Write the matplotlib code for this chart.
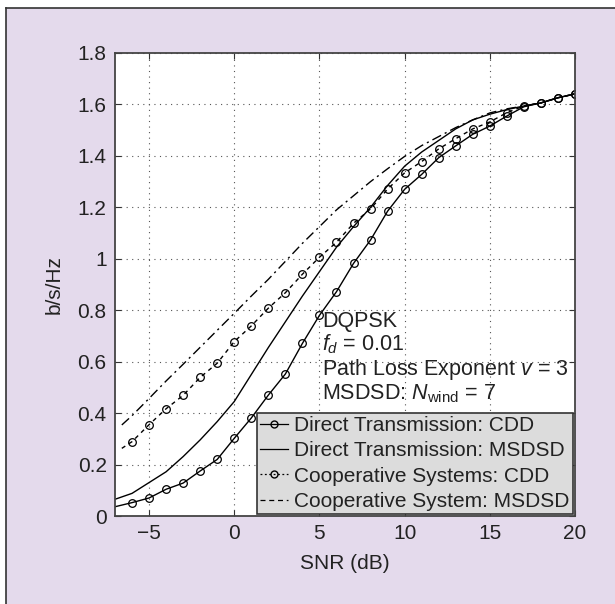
import matplotlib
matplotlib.use("Agg")
import matplotlib.pyplot as plt
from matplotlib.lines import Line2D

plt.rcParams['font.family'] = ['Liberation Sans', 'DejaVu Sans']
plt.rcParams['mathtext.fontset'] = 'custom'
plt.rcParams['mathtext.rm'] = 'Liberation Sans'
plt.rcParams['mathtext.it'] = 'Liberation Sans:italic'

# data
snr = [-7, -6, -5, -4, -3, -2, -1, 0, 1, 2, 3, 4, 5, 6, 7,
       8, 9, 10, 11, 12, 13, 14, 15, 16, 17, 18, 19, 20]
direct_cdd = [0.036, 0.052, 0.070, 0.104, 0.128, 0.175, 0.220, 0.302, 0.381, 0.470,
              0.552, 0.671, 0.780, 0.872, 0.982, 1.073, 1.185, 1.270, 1.328, 1.393,
              1.439, 1.484, 1.516, 1.555, 1.591, 1.606, 1.626, 1.641]
direct_msdsd = [0.065, 0.088, 0.130, 0.172, 0.231, 0.296, 0.367, 0.445, 0.550, 0.655,
                0.755, 0.855, 0.950, 1.045, 1.125, 1.200, 1.285, 1.360, 1.415, 1.460,
                1.505, 1.540, 1.562, 1.580, 1.594, 1.606, 1.626, 1.641]

snr_coop = [-6.6, -6, -5, -4, -3, -2, -1, 0, 1, 2, 3, 4, 5, 6, 7,
            8, 9, 10, 11, 12, 13, 14, 15, 16, 17, 18, 19, 20]
coop_cdd = [0.263, 0.289, 0.355, 0.417, 0.469, 0.539, 0.594, 0.678, 0.739, 0.808,
            0.868, 0.940, 1.006, 1.064, 1.138, 1.194, 1.271, 1.334, 1.378, 1.427,
            1.467, 1.505, 1.532, 1.568, 1.594, 1.606, 1.626, 1.641]
coop_msdsd = [0.354, 0.390, 0.457, 0.525, 0.590, 0.656, 0.722, 0.788, 0.855, 0.920,
              0.990, 1.060, 1.125, 1.190, 1.245, 1.300, 1.350, 1.398, 1.440, 1.475,
              1.510, 1.540, 1.567, 1.583, 1.594, 1.606, 1.626, 1.641]

legend_labels = ["Direct Transmission: CDD", "Direct Transmission: MSDSD",
                 "Cooperative Systems: CDD", "Cooperative System: MSDSD"]
x_ticks = [-5, 0, 5, 10, 15, 20]
y_ticks = [0, 0.2, 0.4, 0.6, 0.8, 1, 1.2, 1.4, 1.6, 1.8]
y_ticklabels = ['0', '0.2', '0.4', '0.6', '0.8', '1', '1.2', '1.4', '1.6', '1.8']

bg = '#e4daec'
fs = 15
fig = plt.figure(figsize=(6.15, 6.04), dpi=100, facecolor='white')
# lavender panel with the thin frame on top and left
panel = fig.add_axes([6 / 615, 0, 1 - 6 / 615, 1 - 8 / 604])
panel.set_facecolor(bg)
panel.set_xticks([])
panel.set_yticks([])
for s in ['right', 'bottom']:
    panel.spines[s].set_visible(False)
for s in ['left', 'top']:
    panel.spines[s].set_color('#333333')
    panel.spines[s].set_linewidth(1.2)

ax = fig.add_axes([115 / 615, 1 - 516 / 604, 460 / 615, 463 / 604])
ax.set_facecolor('white')

k = 'black'
ax.plot(snr, direct_cdd, color=k, lw=1.0, marker='o', ms=5.5, mfc='none', mew=0.9,
        markevery=list(range(1, len(snr))))
ax.plot(snr, direct_msdsd, color=k, lw=1.0)
ax.plot(snr_coop, coop_cdd, color=k, lw=1.0, ls=(0, (3, 3)), marker='o', ms=5.5,
        mfc='none', mew=0.9, markevery=list(range(1, len(snr_coop))))
ax.plot(snr_coop, coop_msdsd, color=k, lw=1.0, ls=(0, (7, 3, 1.5, 3)))

ax.set_xlim(-7, 20)
ax.set_ylim(0, 1.8)
ax.set_xticks(x_ticks)
ax.set_yticks(y_ticks)
ax.set_yticklabels(y_ticklabels)
ax.tick_params(direction='in', length=4, top=True, right=True, labelsize=fs,
               colors='#333333', labelcolor='#222222', pad=6)
ax.grid(True, color='#555555', ls=(0, (1, 4)), lw=0.8)
for s in ax.spines.values():
    s.set_color('#444444')
    s.set_linewidth(1.3)

ax.set_xlabel('SNR (dB)', fontsize=fs, color='#222222', labelpad=8)
ax.set_ylabel('b/s/Hz', fontsize=fs, color='#222222', labelpad=10)

notes = ['DQPSK', '$f_d$ = 0.01', 'Path Loss Exponent $v$ = 3',
         'MSDSD: $N_{\\mathrm{wind}}$ = 7']
for i, t in enumerate(notes):
    ax.text(5.15, 0.736 - i * 0.094, t, fontsize=15.5, color='#222222', va='baseline')

handles = [
    Line2D([], [], color=k, lw=0.9, marker='o', ms=5, mfc='none'),
    Line2D([], [], color=k, lw=0.9),
    Line2D([], [], color=k, lw=0.9, ls=(0, (1.5, 2)), marker='o', ms=5, mfc='none'),
    Line2D([], [], color=k, lw=0.9, ls=(0, (4, 3))),
]
leg = ax.legend(handles, legend_labels, loc='lower right', fontsize=fs,
                frameon=True, fancybox=False, borderaxespad=0.1, handlelength=1.35,
                handletextpad=0.3, borderpad=0.15, labelspacing=0.3)
leg.get_frame().set_facecolor('#dcdcdc')
leg.get_frame().set_edgecolor('#333333')
leg.get_frame().set_alpha(1)
leg.get_frame().set_linewidth(1.2)
for t in leg.get_texts():
    t.set_color('#222222')

fig.savefig('out.png', dpi=100, facecolor=fig.get_facecolor())
